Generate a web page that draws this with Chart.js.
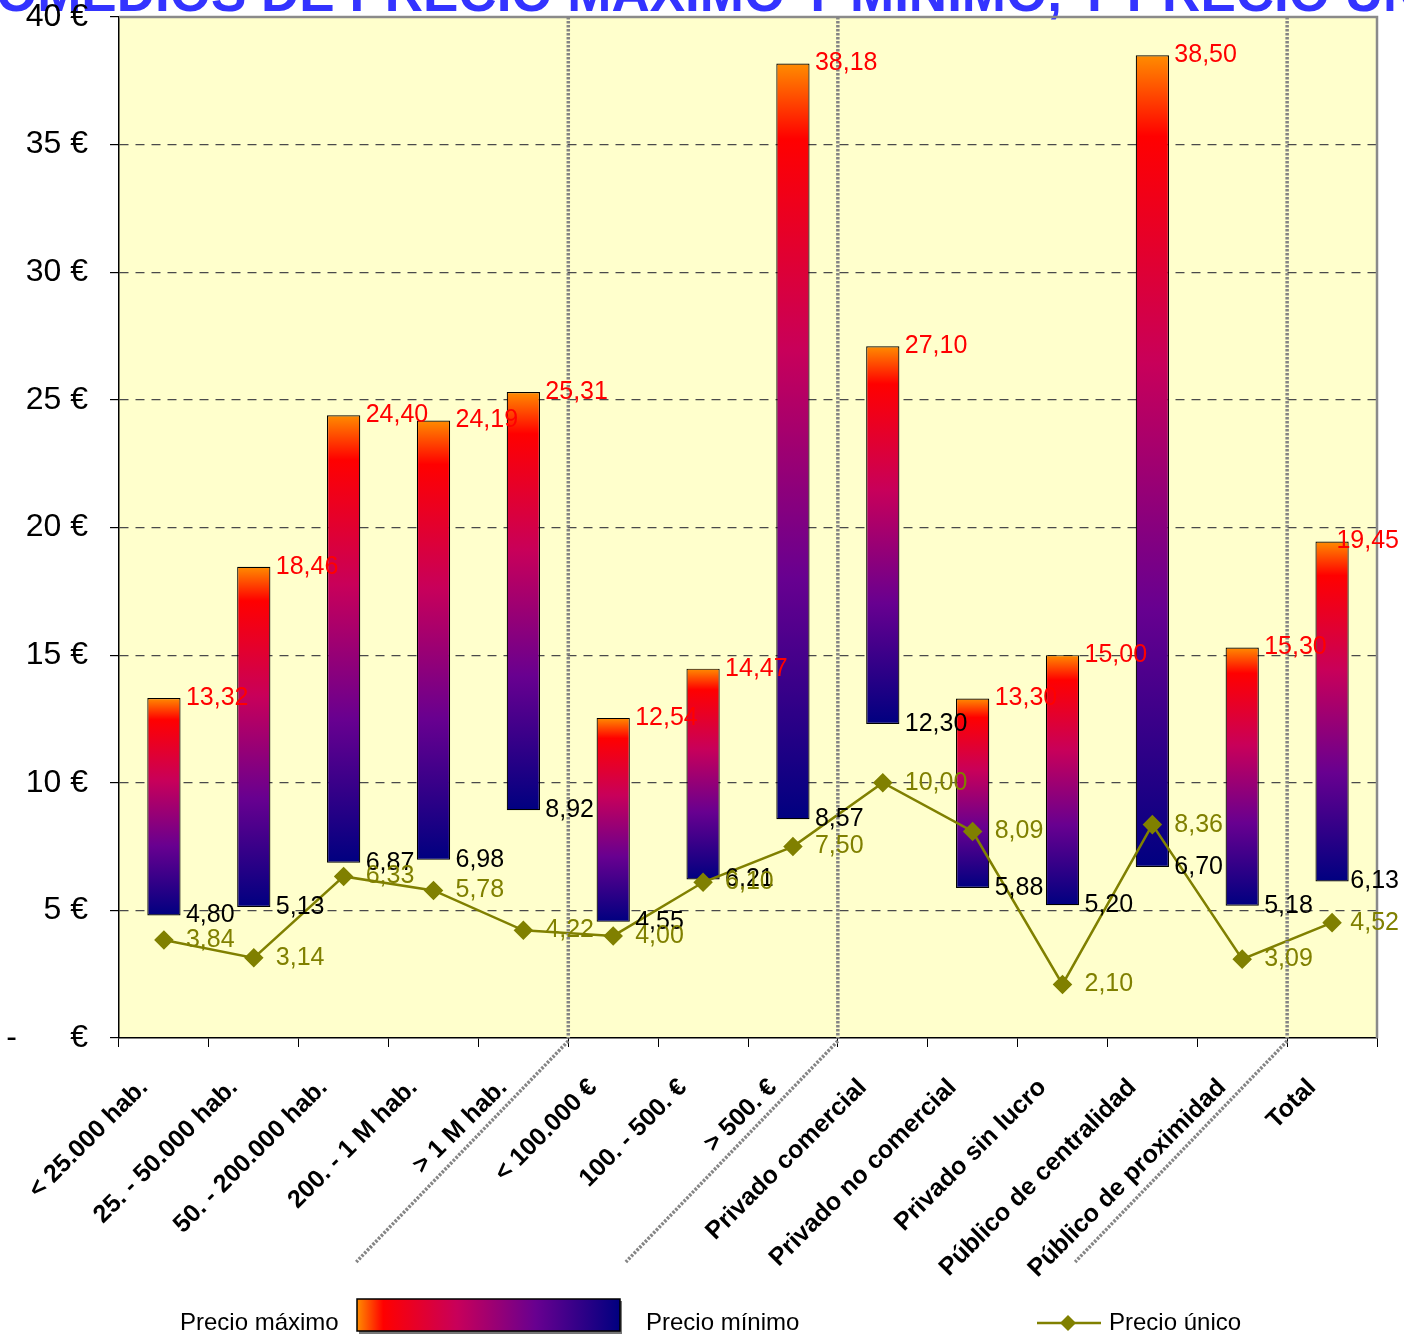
<!DOCTYPE html>
<html>
<head>
<meta charset="utf-8">
<script src="https://cdn.jsdelivr.net/npm/chart.js@4.4.1/dist/chart.umd.min.js"></script>
<style>
  html, body { margin: 0; padding: 0; background: #fff; }
  canvas { display: block; }
</style>
</head>
<body>
<canvas id="chart" width="1404" height="1335"></canvas>
<script>
const categories = ['< 25.000 hab.', '25. - 50.000 hab.', '50. - 200.000 hab.', '200. - 1 M hab.', '> 1 M hab.',
  '< 100.000 €', '100. - 500. €', '> 500. €',
  'Privado comercial', 'Privado no comercial', 'Privado sin lucro', 'Público de centralidad', 'Público de proximidad',
  'Total'];
const maxPrice = [13.32, 18.46, 24.40, 24.19, 25.31, 12.54, 14.47, 38.18, 27.10, 13.30, 15.00, 38.50, 15.30, 19.45];
const minPrice = [4.80, 5.13, 6.87, 6.98, 8.92, 4.55, 6.21, 8.57, 12.30, 5.88, 5.20, 6.70, 5.18, 6.13];
const singlePrice = [3.84, 3.14, 6.33, 5.78, 4.22, 4.00, 6.10, 7.50, 10.00, 8.09, 2.10, 8.36, 3.09, 4.52];
const groupEnds = [4, 7, 12]; // a dotted separator follows these categories
const TITLE = 'PROMEDIOS DE PRECIO MÁXIMO Y MÍNIMO, Y PRECIO ÚNICO';

const OLIVE = '#808000', FONT = '"Liberation Sans", Arial, sans-serif';
Chart.defaults.font.family = FONT;

function fire(ctx, x0, y0, x1, y1) {
  const g = ctx.createLinearGradient(x0, y0, x1, y1);
  g.addColorStop(0, '#ff8c00');
  g.addColorStop(0.1, '#ff0000');
  g.addColorStop(0.38, '#c8005a');
  g.addColorStop(0.68, '#680090');
  g.addColorStop(1, '#000080');
  return g;
}

const fmt = v => v.toFixed(2).replace('.', ',');

const decor = {
  id: 'decor',
  beforeDraw(chart) {
    const { ctx, chartArea: a } = chart;
    ctx.save();
    ctx.fillStyle = '#fff';
    ctx.fillRect(0, 0, chart.width, chart.height);
    ctx.fillStyle = '#ffffcc';
    ctx.fillRect(a.left, a.top, a.right - a.left, a.bottom - a.top);
    // title, cut by the top edge
    ctx.font = 'bold 53px ' + FONT;
    ctx.fillStyle = '#3333ff';
    ctx.textBaseline = 'alphabetic';
    ctx.textAlign = 'left';
    ctx.fillText(TITLE, -ctx.measureText('PR').width - 4, 11);
    ctx.restore();
  },
  afterDatasetsDraw(chart) {
    const { ctx, chartArea: a, scales: { x, y } } = chart;
    ctx.save();
    // plot frame top / right
    ctx.strokeStyle = '#8a8a8a';
    ctx.lineWidth = 2.5;
    ctx.beginPath();
    ctx.moveTo(a.left, a.top); ctx.lineTo(a.right, a.top); ctx.lineTo(a.right, a.bottom);
    ctx.stroke();
    // group separators
    ctx.strokeStyle = '#858585';
    ctx.lineWidth = 3.5;
    ctx.setLineDash([2.5, 1.5]);
    groupEnds.forEach(i => {
      const bx = (x.getPixelForValue(i) + x.getPixelForValue(i + 1)) / 2;
      ctx.beginPath();
      ctx.moveTo(bx, a.top); ctx.lineTo(bx, a.bottom);
      ctx.moveTo(bx, a.bottom + 3); ctx.lineTo(bx - 212, a.bottom + 224);
      ctx.stroke();
    });
    ctx.setLineDash([]);
    // value labels (kept inside the canvas like the original)
    ctx.font = '25px ' + FONT;
    ctx.textBaseline = 'middle';
    ctx.textAlign = 'left';
    const put = (txt, px, py) => ctx.fillText(txt, Math.min(px, chart.width - 5 - ctx.measureText(txt).width), py);
    categories.forEach((c, i) => {
      const px = x.getPixelForValue(i) + 22;
      ctx.fillStyle = '#ff0000';
      put(fmt(maxPrice[i]), px, y.getPixelForValue(maxPrice[i]));
      ctx.fillStyle = '#000';
      put(fmt(minPrice[i]), px, y.getPixelForValue(minPrice[i]));
      ctx.fillStyle = OLIVE;
      put(fmt(singlePrice[i]), px, y.getPixelForValue(singlePrice[i]));
    });
    ctx.restore();
  },
  afterDraw(chart) {
    const { ctx } = chart;
    ctx.save();
    // legend
    ctx.font = '24px ' + FONT;
    ctx.fillStyle = '#000';
    ctx.textBaseline = 'alphabetic';
    ctx.fillText('Precio máximo', 180, 1330);
    ctx.fillText('Precio mínimo', 646, 1330);
    ctx.fillText('Precio único', 1109, 1330);
    ctx.fillStyle = '#777';
    ctx.fillRect(359, 1301, 263, 33);
    ctx.fillStyle = fire(ctx, 357, 0, 620, 0);
    ctx.fillRect(357, 1299, 263, 32);
    ctx.strokeStyle = '#000';
    ctx.lineWidth = 1.5;
    ctx.strokeRect(357, 1299, 263, 32);
    ctx.strokeStyle = OLIVE;
    ctx.lineWidth = 2.5;
    ctx.beginPath(); ctx.moveTo(1037, 1323); ctx.lineTo(1101, 1323); ctx.stroke();
    ctx.fillStyle = OLIVE;
    ctx.beginPath();
    ctx.moveTo(1068, 1315); ctx.lineTo(1076, 1323); ctx.lineTo(1068, 1331); ctx.lineTo(1060, 1323);
    ctx.closePath(); ctx.fill();
    ctx.restore();
  }
};

new Chart(document.getElementById('chart'), {
  data: {
    labels: categories,
    datasets: [
      {
        type: 'line',
        label: 'Precio único',
        data: singlePrice,
        order: 1,
        borderColor: OLIVE,
        borderWidth: 2.5,
        pointStyle: 'rectRot',
        pointRadius: 8,
        pointBackgroundColor: OLIVE,
        pointBorderColor: OLIVE,
        tension: 0
      },
      {
        type: 'bar',
        label: 'Precio máximo / mínimo',
        data: minPrice.map((m, i) => [m, maxPrice[i]]),
        order: 2,
        barPercentage: 0.37,
        categoryPercentage: 1,
        borderColor: '#000',
        borderWidth: 1.2,
        borderSkipped: false,
        backgroundColor: c => {
          const ch = c.chart;
          if (!ch.chartArea || c.dataIndex === undefined) return '#800080';
          const y = ch.scales.y;
          return fire(ch.ctx, 0, y.getPixelForValue(maxPrice[c.dataIndex]), 0, y.getPixelForValue(minPrice[c.dataIndex]));
        }
      }
    ]
  },
  options: {
    responsive: false,
    animation: false,
    layout: { padding: { top: 17, right: 27, left: 0, bottom: 0 } },
    plugins: { legend: { display: false }, tooltip: { enabled: false } },
    scales: {
      x: {
        offset: true,
        ticks: { autoSkip: false, minRotation: 45, maxRotation: 45, color: '#000', font: { size: 25, weight: 'bold' }, padding: 26, labelOffset: -20 },
        grid: { offset: true, drawOnChartArea: false, tickLength: 9, tickColor: '#000', color: '#000' },
        border: { color: '#000', width: 1.5 },
        afterFit: s => { s.height = 297; s.paddingLeft = 0; s.paddingRight = 0; }
      },
      y: {
        min: 0, max: 40,
        ticks: { stepSize: 5, color: '#000', font: { size: 32 }, padding: 22, callback: v => v === 0 ? '-      €' : v + ' €' },
        grid: {
          color: c => (c.tick && (c.tick.value === 0 || c.tick.value === 40)) ? 'rgba(0,0,0,0)' : '#4a4a4a',
          tickColor: '#000', tickLength: 9, lineWidth: 1.2
        },
        border: { color: '#000', width: 1.5, dash: [9, 7] },
        afterFit: s => { s.width = 119; s.paddingTop = 0; s.paddingBottom = 0; }
      }
    }
  },
  plugins: [decor]
});
</script>
</body>
</html>
